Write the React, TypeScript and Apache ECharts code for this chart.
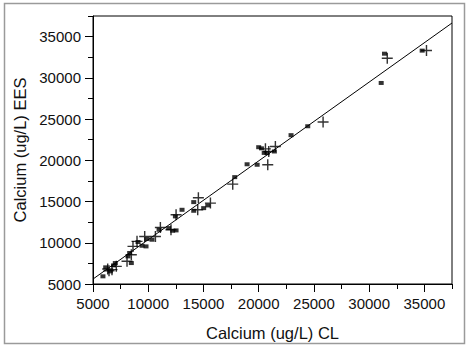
import React, { useEffect, useRef } from "react";
import * as echarts from "echarts";

// Square-marker samples: Calcium CL vs EES (ug/L)
const squareCL = [5900, 6150, 6570, 6870, 7020, 8170, 8320, 8470, 9075, 9440, 9800, 9890, 10340, 10980, 11850, 12210, 12520, 12460, 13060, 14120, 14120, 15020, 15390, 17830, 18950, 19860, 20000, 20250, 20500, 20760, 21420, 22930, 24440, 31090, 31390, 34800];
const squareEES = [5930, 7020, 6530, 7260, 7540, 8350, 8760, 7540, 10090, 9640, 9560, 10450, 10370, 11580, 11780, 11460, 11500, 13200, 14000, 14930, 13880, 14200, 14530, 17960, 19520, 19460, 21590, 21450, 20900, 20870, 21070, 23050, 24130, 29380, 32930, 33300];

// Plus-marker samples
const plusCL = [6330, 6450, 6720, 7110, 8080, 8470, 8620, 8985, 9680, 10650, 11100, 12060, 12520, 14540, 14480, 15630, 17650, 20820, 20610, 20910, 21510, 25830, 31640, 35190];
const plusEES = [6820, 6600, 6740, 7140, 7750, 8550, 9560, 10170, 10770, 10770, 11860, 11580, 13400, 15460, 14000, 14810, 17110, 19460, 21390, 21070, 21680, 24640, 32380, 33320];

// Fitted line end points
const fitCL = [5000, 37500];
const fitEES = [5600, 36650];

// Axis ticks
const majorTicks = [5000, 10000, 15000, 20000, 25000, 30000, 35000];
const minorTicks = [7500, 12500, 17500, 22500, 27500, 32500, 37500];
const axisMin = 5000;
const axisMax = 37500;

const plusPath = "path://M4.35,0H5.65V4.35H10V5.65H5.65V10H4.35V5.65H0V4.35H4.35Z";
const FONT = "'Liberation Sans', Arial, sans-serif";

export default function App() {
  const ref = useRef<HTMLDivElement>(null);
  useEffect(() => {
    if (!ref.current) return;
    const chart = echarts.init(ref.current, undefined, { renderer: "svg" });
    const pair = (xs: number[], ys: number[]) => xs.map((x, i) => [x, ys[i]]);
    const labelStyle = { color: "#111", fontSize: 15, fontFamily: FONT };
    const majorAxis = (isX: boolean, name: string) => ({
      type: "value",
      min: axisMin,
      max: axisMax,
      interval: 5000,
      position: isX ? "bottom" : "left",
      name,
      nameLocation: "middle",
      nameGap: isX ? 40 : 56,
      nameTextStyle: { color: "#111", fontSize: 16.5, fontFamily: FONT },
      axisLine: { show: true, lineStyle: { color: "#000", width: 1 } },
      axisTick: { show: true, length: 8, lineStyle: { color: "#000" }, customValues: majorTicks },
      axisLabel: {
        ...labelStyle,
        margin: 12,
        customValues: majorTicks,
        formatter: (v: number) => String(v),
      },
      splitLine: { show: false },
    });
    const minorAxis = (isX: boolean) => ({
      type: "value",
      min: axisMin,
      max: axisMax,
      interval: 2500,
      position: isX ? "bottom" : "left",
      axisLine: { show: false },
      axisTick: { show: true, length: 5, lineStyle: { color: "#000" }, customValues: minorTicks },
      axisLabel: { show: false },
      splitLine: { show: false },
    });
    chart.setOption({
      animation: false,
      backgroundColor: "#fff",
      grid: {
        left: 93,
        top: 16,
        right: 15,
        bottom: 69,
        show: true,
        borderColor: "#000",
        borderWidth: 1,
        backgroundColor: "transparent",
      },
      xAxis: [majorAxis(true, "Calcium (ug/L) CL"), minorAxis(true)],
      yAxis: [majorAxis(false, "Calcium (ug/L) EES"), minorAxis(false)],
      graphic: [
        {
          type: "rect",
          shape: { x: 4.5, y: 3.5, width: 460, height: 340 },
          style: { fill: "none", stroke: "#9a9a9a", lineWidth: 1.5 },
          silent: true,
        },
      ],
      series: [
        {
          type: "line",
          data: pair(fitCL, fitEES),
          showSymbol: false,
          symbol: "none",
          lineStyle: { color: "#000", width: 1 },
          silent: true,
        },
        {
          type: "scatter",
          data: pair(squareCL, squareEES),
          symbol: "rect",
          symbolSize: [5, 4],
          itemStyle: { color: "#000" },
        },
        {
          type: "scatter",
          data: pair(plusCL, plusEES),
          symbol: plusPath,
          symbolSize: 11,
          itemStyle: { color: "#000" },
        },
      ],
    });
    return () => chart.dispose();
  }, []);
  return (
    <div
      ref={ref}
      style={{ position: "fixed", left: 0, top: 0, width: 467, height: 353, background: "#fff" }}
    />
  );
}
